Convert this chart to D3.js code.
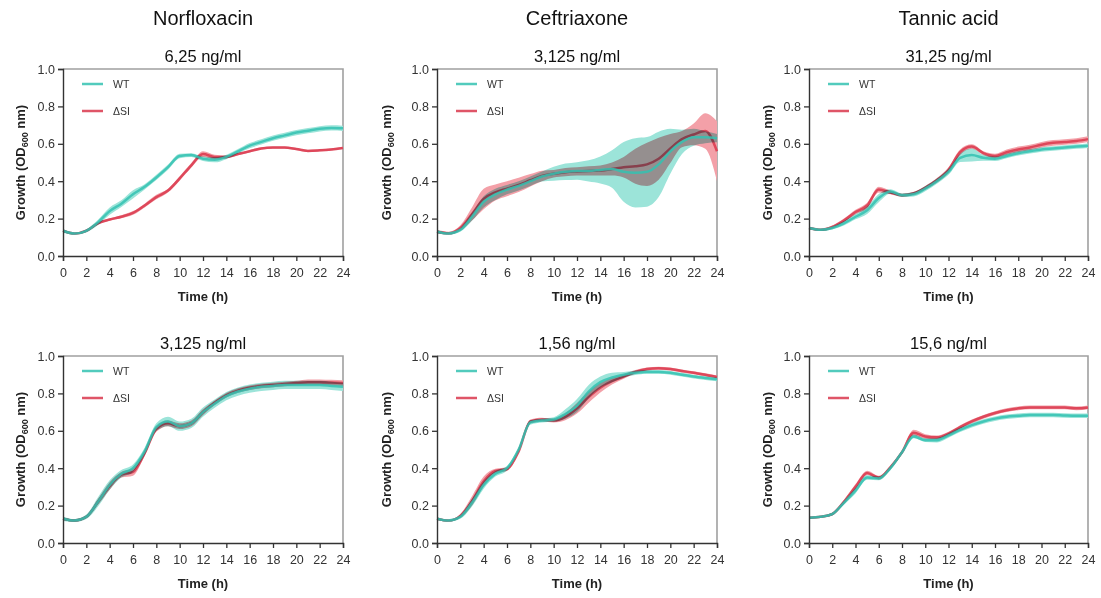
<!DOCTYPE html>
<html>
<head>
<meta charset="utf-8">
<script src="https://cdn.jsdelivr.net/npm/d3@7"></script>
<style>
  body { margin: 0; background: #fff; }
  svg { display: block; font-family: "Liberation Sans", Arial, sans-serif; }
</style>
</head>
<body>
<svg width="1101" height="598"></svg>
<script>
// time grid (h)
const hours = [0,1,2,3,4,5,6,7,8,9,10,11,12,13,14,15,16,17,18,19,20,21,22,23,24]
const yTicks = [0, 0.2, 0.4, 0.6, 0.8, 1.0]
const xTicks = [0,2,4,6,8,10,12,14,16,18,20,22,24]
const drugs = ["Norfloxacin", "Ceftriaxone", "Tannic acid"]
const doses = [["6,25 ng/ml", "3,125 ng/ml"], ["3,125 ng/ml", "1,56 ng/ml"], ["31,25 ng/ml", "15,6 ng/ml"]]
const strains = ["WT", "ΔSI"]

// Norfloxacin 6,25
const norfHiWT   = [0.135,0.12,0.135,0.18,0.24,0.28,0.33,0.37,0.42,0.475,0.535,0.54,0.52,0.515,0.53,0.56,0.59,0.61,0.63,0.645,0.66,0.67,0.68,0.685,0.683]
const norfHiWTsd = [0.01,0.005,0.008,0.014,0.02,0.018,0.022,0.014,0.014,0.014,0.012,0.01,0.012,0.014,0.012,0.012,0.014,0.014,0.014,0.014,0.014,0.014,0.014,0.014,0.014]
const norfHiSI   = [0.135,0.12,0.135,0.175,0.195,0.21,0.23,0.27,0.315,0.35,0.415,0.485,0.545,0.53,0.53,0.545,0.56,0.575,0.58,0.58,0.572,0.562,0.565,0.57,0.578]
const norfHiSIsd = [0.008,0.005,0.006,0.006,0.006,0.008,0.01,0.01,0.012,0.01,0.012,0.012,0.015,0.012,0.008,0.006,0.006,0.006,0.006,0.006,0.006,0.006,0.006,0.006,0.006]

// Ceftriaxone 3,125
const ceftHiWT   = [0.13,0.12,0.14,0.21,0.29,0.33,0.355,0.375,0.40,0.425,0.44,0.45,0.455,0.455,0.46,0.465,0.45,0.445,0.45,0.49,0.56,0.61,0.635,0.635,0.63]
const ceftHiWTsd = [0.01,0.005,0.01,0.022,0.03,0.03,0.025,0.025,0.025,0.027,0.037,0.044,0.047,0.057,0.072,0.10,0.16,0.185,0.186,0.175,0.12,0.065,0.045,0.032,0.022]
const ceftHiSI   = [0.13,0.122,0.15,0.225,0.305,0.34,0.36,0.38,0.405,0.428,0.44,0.448,0.452,0.455,0.457,0.465,0.475,0.48,0.49,0.52,0.575,0.625,0.65,0.668,0.56]
const ceftHiSIsd = [0.01,0.008,0.015,0.035,0.055,0.043,0.04,0.038,0.033,0.028,0.02,0.022,0.022,0.025,0.027,0.035,0.055,0.093,0.115,0.112,0.078,0.043,0.058,0.095,0.16]

// Tannic acid 31,25
const tannHiWT   = [0.15,0.14,0.15,0.175,0.21,0.245,0.31,0.345,0.325,0.33,0.36,0.40,0.45,0.525,0.54,0.525,0.52,0.535,0.55,0.56,0.57,0.575,0.58,0.585,0.59]
const tannHiWTsd = [0.008,0.006,0.008,0.012,0.014,0.02,0.022,0.012,0.01,0.012,0.014,0.014,0.016,0.022,0.035,0.016,0.012,0.012,0.012,0.012,0.012,0.012,0.012,0.012,0.012]
const tannHiSI   = [0.15,0.14,0.155,0.19,0.235,0.27,0.355,0.34,0.325,0.335,0.365,0.405,0.46,0.555,0.585,0.55,0.535,0.555,0.57,0.58,0.595,0.605,0.61,0.615,0.625]
const tannHiSIsd = [0.008,0.006,0.008,0.01,0.012,0.015,0.015,0.01,0.008,0.008,0.01,0.012,0.015,0.015,0.012,0.01,0.012,0.015,0.015,0.015,0.015,0.015,0.015,0.015,0.015]

// Norfloxacin 3,125
const norfLoWT   = [0.13,0.12,0.14,0.22,0.31,0.37,0.40,0.49,0.62,0.65,0.625,0.64,0.70,0.745,0.785,0.81,0.825,0.835,0.84,0.845,0.845,0.845,0.845,0.84,0.835]
const norfLoWTsd = [0.012,0.008,0.012,0.025,0.025,0.02,0.02,0.02,0.02,0.025,0.025,0.025,0.025,0.022,0.022,0.022,0.022,0.022,0.022,0.022,0.022,0.022,0.022,0.022,0.022]
const norfLoSI   = [0.13,0.12,0.14,0.22,0.305,0.365,0.38,0.48,0.61,0.64,0.625,0.64,0.70,0.75,0.79,0.815,0.83,0.84,0.845,0.85,0.855,0.86,0.86,0.858,0.855]
const norfLoSIsd = [0.008,0.006,0.008,0.015,0.02,0.015,0.02,0.015,0.015,0.015,0.015,0.015,0.015,0.012,0.012,0.012,0.012,0.012,0.012,0.012,0.012,0.015,0.015,0.015,0.015]

// Ceftriaxone 1,56
const ceftLoWT   = [0.13,0.12,0.14,0.215,0.31,0.37,0.40,0.50,0.645,0.655,0.66,0.69,0.735,0.81,0.86,0.885,0.90,0.91,0.915,0.915,0.91,0.90,0.89,0.882,0.875]
const ceftLoWTsd = [0.008,0.005,0.01,0.02,0.02,0.015,0.012,0.012,0.012,0.01,0.012,0.025,0.035,0.035,0.03,0.025,0.015,0.012,0.01,0.01,0.01,0.01,0.01,0.01,0.01]
const ceftLoSI   = [0.13,0.12,0.145,0.225,0.33,0.385,0.395,0.49,0.65,0.66,0.655,0.675,0.72,0.78,0.83,0.865,0.89,0.915,0.93,0.935,0.93,0.92,0.91,0.90,0.888]
const ceftLoSIsd = [0.008,0.005,0.01,0.025,0.025,0.012,0.01,0.01,0.01,0.01,0.01,0.018,0.028,0.03,0.025,0.018,0.012,0.01,0.008,0.008,0.008,0.008,0.008,0.008,0.008]

// Tannic acid 15,6
const tannLoWT   = [0.135,0.14,0.155,0.215,0.28,0.35,0.345,0.40,0.485,0.57,0.55,0.55,0.575,0.605,0.63,0.65,0.665,0.675,0.68,0.685,0.685,0.685,0.682,0.68,0.68]
const tannLoWTsd = [0.006,0.006,0.008,0.01,0.015,0.012,0.01,0.01,0.01,0.01,0.01,0.012,0.012,0.012,0.012,0.012,0.012,0.012,0.012,0.012,0.012,0.012,0.012,0.012,0.012]
const tannLoSI   = [0.135,0.14,0.155,0.22,0.30,0.375,0.35,0.405,0.485,0.59,0.57,0.565,0.585,0.62,0.65,0.675,0.695,0.71,0.72,0.725,0.725,0.725,0.725,0.72,0.725]
const tannLoSIsd = [0.006,0.006,0.008,0.01,0.015,0.012,0.01,0.01,0.01,0.015,0.012,0.01,0.01,0.01,0.01,0.01,0.01,0.01,0.01,0.01,0.01,0.01,0.01,0.01,0.01]

// layout
const cols = [{x0: 63, x1: 343, lab: 38}, {x0: 437, x1: 717, lab: 46}, {x0: 809, x1: 1088, lab: 37}]
const rows = [{y0: 69, y1: 256}, {y0: 356, y1: 543}]
const lineColor = {WT: "#34c2b1", "ΔSI": "#d9374c"}
const bandColor = {WT: "#9ce4d9", "ΔSI": "#f3a0a8"}

const grid = [
  [[norfHiWT, norfHiWTsd, norfHiSI, norfHiSIsd], [norfLoWT, norfLoWTsd, norfLoSI, norfLoSIsd]],
  [[ceftHiWT, ceftHiWTsd, ceftHiSI, ceftHiSIsd], [ceftLoWT, ceftLoWTsd, ceftLoSI, ceftLoSIsd]],
  [[tannHiWT, tannHiWTsd, tannHiSI, tannHiSIsd], [tannLoWT, tannLoWTsd, tannLoSI, tannLoSIsd]]
]

const svg = d3.select("svg")

drugs.forEach((drug, c) => {
  const col = cols[c]
  svg.append("text")
      .attr("x", (col.x0 + col.x1) / 2)
      .attr("y", 25)
      .attr("text-anchor", "middle")
      .attr("font-size", 20)
      .attr("fill", "#111")
      .text(drug)

  rows.forEach((row, r) => {
    const [wt, wtSd, si, siSd] = grid[c][r]
    const x = d3.scaleLinear().domain([0, 24]).range([col.x0, col.x1])
    const y = d3.scaleLinear().domain([0, 1]).range([row.y1, row.y0])
    const g = svg.append("g")

    g.append("text")
        .attr("x", (col.x0 + col.x1) / 2)
        .attr("y", row.y0 - 7)
        .attr("text-anchor", "middle")
        .attr("font-size", 16.5)
        .attr("fill", "#111")
        .text(doses[c][r])

    // top/right frame
    g.append("path")
        .attr("d", `M${col.x0},${row.y0}H${col.x1}V${row.y1}`)
        .attr("fill", "none")
        .attr("stroke", "#a0a0a0")
        .attr("stroke-width", 1.6)

    const series = [
      {name: "ΔSI", mean: si, sd: siSd},
      {name: "WT", mean: wt, sd: wtSd}
    ]

    const area = d3.area()
        .curve(d3.curveMonotoneX)
        .x((d, i) => x(hours[i]))
        .y0(d => y(d[0] - d[1]))
        .y1(d => y(d[0] + d[1]))
    const line = d3.line()
        .curve(d3.curveMonotoneX)
        .x((d, i) => x(hours[i]))
        .y(d => y(d))

    const plot = g.append("g").style("isolation", "isolate")
    series.forEach(s => {
      plot.append("path")
          .datum(s.mean.map((m, i) => [m, s.sd[i]]))
          .attr("d", area)
          .attr("fill", bandColor[s.name])
          .style("mix-blend-mode", "multiply")
      plot.append("path")
          .datum(s.mean)
          .attr("d", line)
          .attr("fill", "none")
          .attr("stroke", lineColor[s.name])
          .attr("stroke-width", 2.5)
          .attr("stroke-opacity", 0.85)
    })

    // axes
    const xAxis = g.append("g")
        .attr("transform", `translate(0,${row.y1})`)
        .call(d3.axisBottom(x).tickValues(xTicks).tickSize(5).tickPadding(7).tickFormat(d3.format("d")))
    const yAxis = g.append("g")
        .attr("transform", `translate(${col.x0},0)`)
        .call(d3.axisLeft(y).tickValues(yTicks).tickSize(5).tickPadding(3).tickFormat(d3.format(".1f")))
    ;[xAxis, yAxis].forEach(a => {
      a.select(".domain").attr("stroke", "#333").attr("stroke-width", 1.4)
      a.selectAll(".tick line").attr("stroke", "#333").attr("stroke-width", 1.3)
      a.selectAll(".tick text").attr("font-size", 12.5).attr("fill", "#333")
        .attr("font-family", "Liberation Sans, Arial, sans-serif")
    })

    g.append("text")
        .attr("x", (col.x0 + col.x1) / 2)
        .attr("y", row.y1 + 45)
        .attr("text-anchor", "middle")
        .attr("font-size", 13)
        .attr("font-weight", "bold")
        .attr("fill", "#222")
        .text("Time (h)")

    const yl = g.append("text")
        .attr("transform", `translate(${col.x0 - col.lab},${(row.y0 + row.y1) / 2}) rotate(-90)`)
        .attr("text-anchor", "middle")
        .attr("font-size", 13)
        .attr("font-weight", "bold")
        .attr("fill", "#222")
    yl.append("tspan").text("Growth (OD")
    yl.append("tspan").attr("font-size", 9).attr("dy", 3).text("600")
    yl.append("tspan").attr("dy", -3).text(" nm)")

    // legend
    strains.forEach((name, i) => {
      const ly = row.y0 + 15 + i * 27
      g.append("line")
          .attr("x1", col.x0 + 19).attr("x2", col.x0 + 40)
          .attr("y1", ly).attr("y2", ly)
          .attr("stroke", lineColor[name])
          .attr("stroke-width", 2.5)
          .attr("stroke-opacity", 0.85)
      g.append("text")
          .attr("x", col.x0 + 50)
          .attr("y", ly)
          .attr("dy", "0.35em")
          .attr("font-size", 10.5)
          .attr("fill", "#333")
          .text(name)
    })
  })
})
</script>
</body>
</html>
